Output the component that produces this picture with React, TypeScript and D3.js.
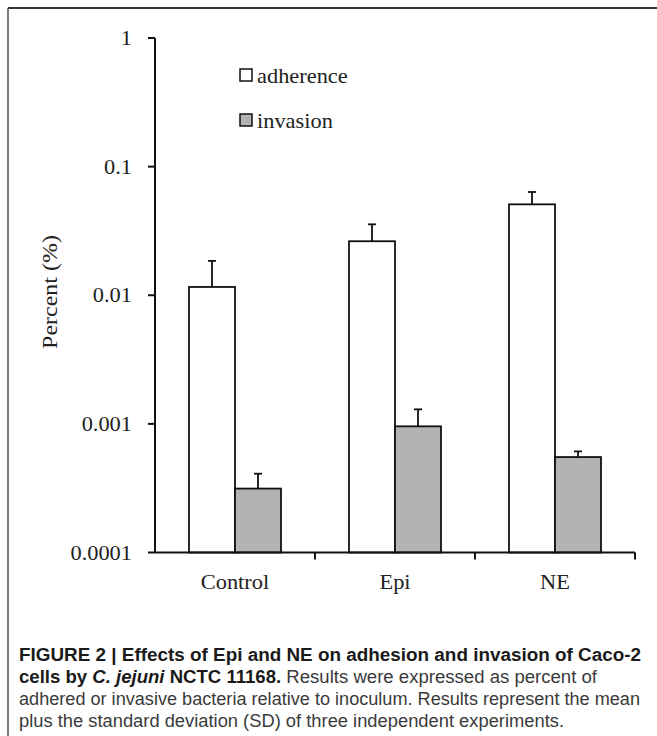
import React from "react";
import * as d3 from "d3";

const categories = ["Control", "Epi", "NE"];
const adherence = [0.0116, 0.0263, 0.0509];
const adherenceSD = [0.0069, 0.0093, 0.0126];
const invasion = [0.000314, 0.000957, 0.000552];
const invasionSD = [0.000096, 0.00034, 0.000059];
const yTicks = [1, 0.1, 0.01, 0.001, 0.0001];
const yTickLabels = ["1", "0.1", "0.01", "0.001", "0.0001"];
const seriesNames = ["adherence", "invasion"];
const seriesFills = ["#ffffff", "#b3b3b3"];

const W = 657;
const H = 736;
const SERIF = "'Liberation Serif', 'Times New Roman', serif";
const SANS = "'Liberation Sans', Arial, Helvetica, sans-serif";

export default function App() {
  const x0 = 155;
  const x1 = 635;
  const yTop = 38;
  const yBot = 552.5;
  const y = d3.scaleLog().domain([1e-4, 1]).range([yBot, yTop]);
  const xBand = d3.scaleBand<string>().domain(categories).range([x0, x1]).paddingInner(0).paddingOuter(0);
  const barW = 46;
  const series = [
    { name: seriesNames[0], vals: adherence, sd: adherenceSD, fill: seriesFills[0] },
    { name: seriesNames[1], vals: invasion, sd: invasionSD, fill: seriesFills[1] },
  ];
  const catTicks = categories.map((c) => (xBand(c) as number) + xBand.bandwidth());
  const textScale = 1.12;

  return (
    <svg width={W} height={H} style={{ position: "absolute", left: 0, top: 0, background: "#fff" }}>
      <rect x={0} y={0} width={W} height={H} fill="#fff" />
      {/* frame */}
      <line x1={8} y1={8} x2={W} y2={8} stroke="#333" strokeWidth={2} />
      <line x1={8} y1={8} x2={8} y2={H} stroke="#555" strokeWidth={1.5} />

      {/* bars */}
      {categories.map((c, i) => {
        const cx = (xBand(c) as number) + xBand.bandwidth() / 2;
        return (
          <g key={c}>
            {series.map((s, j) => {
              const bx = cx - barW + j * barW;
              const top = y(s.vals[i]);
              const eTop = y(s.vals[i] + s.sd[i]);
              const ex = bx + barW / 2;
              return (
                <g key={s.name}>
                  <line x1={ex} x2={ex} y1={top} y2={eTop} stroke="#111" strokeWidth={1.8} />
                  <line x1={ex - 4} x2={ex + 4} y1={eTop} y2={eTop} stroke="#111" strokeWidth={1.8} />
                  <rect x={bx} y={top} width={barW} height={yBot - top} fill={s.fill} stroke="#111" strokeWidth={1.8} />
                </g>
              );
            })}
          </g>
        );
      })}

      {/* y axis */}
      <line x1={x0} x2={x0} y1={yTop} y2={yBot} stroke="#111" strokeWidth={2} />
      {yTicks.map((t, i) => (
        <g key={t}>
          <line x1={x0 - 7} x2={x0} y1={y(t)} y2={y(t)} stroke="#111" strokeWidth={2} />
          <text
            transform={`translate(132, ${y(t) + 7}) scale(${textScale},1)`}
            textAnchor="end"
            fontFamily={SERIF}
            fontSize={20}
            fill="#222"
          >
            {yTickLabels[i]}
          </text>
        </g>
      ))}
      <text
        transform={`translate(57, 292) rotate(-90) scale(1.2,1.05)`}
        textAnchor="middle"
        fontFamily={SERIF}
        fontSize={20}
        fill="#222"
      >
        Percent (%)
      </text>

      {/* x axis */}
      <line x1={x0} x2={x1} y1={yBot} y2={yBot} stroke="#111" strokeWidth={2} />
      {catTicks.map((tx, i) => (
        <line key={i} x1={tx} x2={tx} y1={yBot} y2={yBot + 7} stroke="#111" strokeWidth={2} />
      ))}
      {categories.map((c) => (
        <text
          key={c}
          transform={`translate(${(xBand(c) as number) + xBand.bandwidth() / 2}, 589) scale(${textScale},1)`}
          textAnchor="middle"
          fontFamily={SERIF}
          fontSize={20}
          fill="#222"
        >
          {c}
        </text>
      ))}

      {/* legend */}
      {series.map((s, j) => (
        <g key={s.name}>
          <rect x={240} y={69 + j * 45} width={12} height={12} fill={s.fill} stroke="#111" strokeWidth={1.5} />
          <text
            transform={`translate(257, ${83 + j * 45}) scale(${textScale},1)`}
            fontFamily={SERIF}
            fontSize={20}
            fill="#222"
          >
            {s.name}
          </text>
        </g>
      ))}

      {/* caption */}
      <g fontFamily={SANS} fontSize={17.5} fill="#3a3a3a">
        <text x={19} y={661} textLength={622} lengthAdjust="spacingAndGlyphs">
          <tspan fontWeight="bold" fill="#1a1a1a">FIGURE 2 | Effects of Epi and NE on adhesion and invasion of Caco-2</tspan>
        </text>
        <text x={19} y={683} textLength={578} lengthAdjust="spacingAndGlyphs">
          <tspan fontWeight="bold" fill="#1a1a1a">cells by </tspan>
          <tspan fontWeight="bold" fontStyle="italic" fill="#1a1a1a">C. jejuni</tspan>
          <tspan fontWeight="bold" fill="#1a1a1a"> NCTC 11168.</tspan>
          <tspan> Results were expressed as percent of</tspan>
        </text>
        <text x={19} y={705} textLength={621} lengthAdjust="spacingAndGlyphs">
          adhered or invasive bacteria relative to inoculum. Results represent the mean
        </text>
        <text x={19} y={727} textLength={545} lengthAdjust="spacingAndGlyphs">
          plus the standard deviation (SD) of three independent experiments.
        </text>
      </g>
    </svg>
  );
}
